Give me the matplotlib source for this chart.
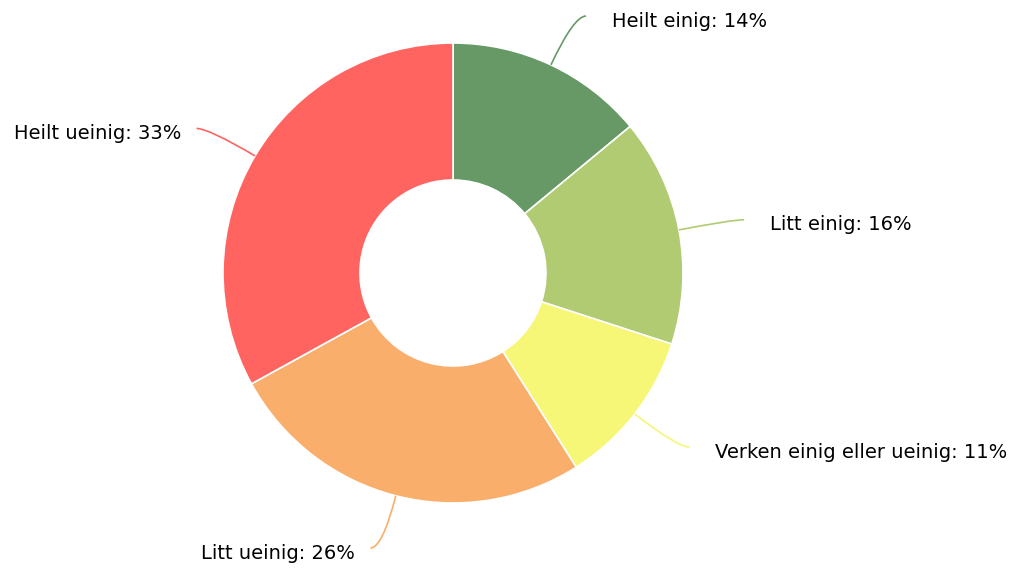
import numpy as np
import matplotlib.pyplot as plt
from matplotlib.path import Path
from matplotlib.patches import PathPatch

# data
labels = ["Heilt einig", "Litt einig", "Verken einig eller ueinig", "Litt ueinig", "Heilt ueinig"]
values = [14, 16, 11, 26, 33]
colors = ["#669966", "#b0cb71", "#f6f677", "#f9af6b", "#ff6461"]

W, H = 1017, 570
cx, cy = 453, H - 273
R = 230
hole = 93

fig = plt.figure(figsize=(W / 100, H / 100), dpi=100)
ax = fig.add_axes([0, 0, 1, 1])

wedges, _ = ax.pie(values, colors=colors, startangle=90, counterclock=False,
                   radius=R, center=(cx, cy),
                   wedgeprops=dict(width=R - hole, edgecolor="white", linewidth=1.2))
ax.set_xlim(0, W)
ax.set_ylim(0, H)
ax.set_aspect("equal")
ax.axis("off")

# label lines, smooth like echarts
len1, len2 = 54, 12
for w, lab, val, col in zip(wedges, labels, values, colors):
    mid = np.deg2rad((w.theta1 + w.theta2) / 2)
    dx, dy = np.cos(mid), np.sin(mid)
    p0 = (cx + R * dx, cy + R * dy)
    p1 = (cx + (R + len1) * dx, cy + (R + len1) * dy)
    side = 1 if dx >= 0 else -1
    gap = 26 if side > 0 else 15
    p2 = (p1[0] + side * len2, p1[1])
    path = Path([p0, p1, p2], [Path.MOVETO, Path.CURVE3, Path.CURVE3])
    ax.add_patch(PathPatch(path, fill=False, edgecolor=col, lw=1.2))
    ax.text(p2[0] + side * gap, p2[1] - 5, f"{lab}: {val}%",
            ha="left" if side > 0 else "right", va="center",
            fontsize=14, color="#000000", family="DejaVu Sans")

fig.savefig("out.png", dpi=100, facecolor="white")
